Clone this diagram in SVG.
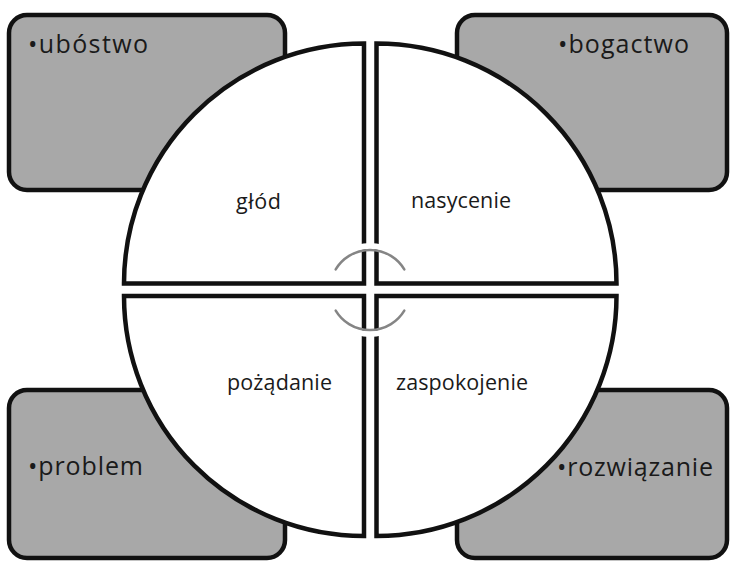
<svg xmlns="http://www.w3.org/2000/svg" width="730" height="563" viewBox="0 0 730 563">
  <style>
    .box { fill: #a8a8a8; stroke: #111; stroke-width: 4.5; }
    .quad { fill: #ffffff; stroke: #111; stroke-width: 4.5; stroke-linejoin: miter; }
    .boxtxt { font-family: "Open Sans", "Liberation Sans", sans-serif; font-size: 25px; fill: #1a1a1a; }
    .qtxt { font-family: "Open Sans", "Liberation Sans", sans-serif; font-size: 21.5px; fill: #1a1a1a; }
    .halo { fill: none; stroke: #ffffff; stroke-width: 6; }
    .arc { fill: none; stroke: #858585; stroke-width: 2.5; stroke-linecap: round; }
  </style>
  <rect x="0" y="0" width="730" height="563" fill="#ffffff"/>

  <g id="box-ubostwo">
    <rect class="box" x="9" y="15" width="276" height="175" rx="18" ry="18"/>
  </g>
  <g id="box-bogactwo">
    <rect class="box" x="457" y="15" width="270" height="175" rx="18" ry="18"/>
  </g>
  <g id="box-problem">
    <rect class="box" x="9" y="390" width="276" height="168" rx="18" ry="18"/>
  </g>
  <g id="box-rozwiazanie">
    <rect class="box" x="457" y="390" width="270" height="168" rx="18" ry="18"/>
  </g>

  <g id="quad-glod">
    <path class="quad" d="M364,283.5 L124,283.5 A240,240 0 0 1 364,43.5 Z"/>
    <text class="qtxt" x="236" y="209" textLength="45">głód</text>
  </g>
  <g id="quad-nasycenie">
    <path class="quad" d="M376.5,283.5 L376.5,43.5 A240,240 0 0 1 616.5,283.5 Z"/>
    <text class="qtxt" x="411" y="208" textLength="100">nasycenie</text>
  </g>
  <g id="quad-zaspokojenie">
    <path class="quad" d="M376.5,296 L616.5,296 A240,240 0 0 1 376.5,536 Z"/>
    <text class="qtxt" x="396" y="390" textLength="132">zaspokojenie</text>
  </g>
  <g id="quad-pozadanie">
    <path class="quad" d="M364,296 L364,536 A240,240 0 0 1 124,296 Z"/>
    <text class="qtxt" x="227" y="390" textLength="105">pożądanie</text>
  </g>

  <g id="box-labels">
    <text class="boxtxt" x="28" y="53" textLength="120">•ubóstwo</text>
    <text class="boxtxt" x="558" y="53" textLength="131">•bogactwo</text>
    <text class="boxtxt" x="28" y="475" textLength="115">•problem</text>
    <text class="boxtxt" x="557" y="476" textLength="156">•rozwiązanie</text>
  </g>

  <g id="connectors">
    <path class="halo" d="M332.3,267.3 A44,44 0 0 1 407.7,267.3"/>
    <path class="halo" d="M332.3,312.7 A44,44 0 0 0 407.7,312.7"/>
    <path class="arc" d="M335.7,269.4 A40,40 0 0 1 404.3,269.4"/>
    <path class="arc" d="M335.7,310.6 A40,40 0 0 0 404.3,310.6"/>
  </g>
</svg>
